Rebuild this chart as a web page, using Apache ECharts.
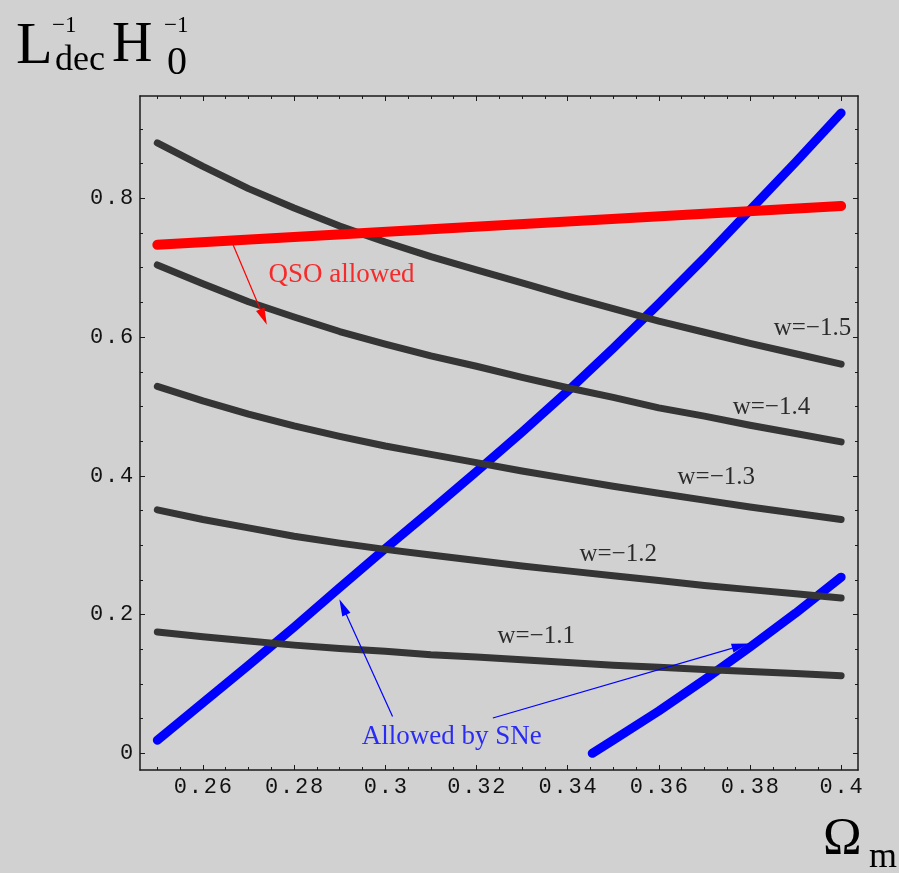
<!DOCTYPE html>
<html><head><meta charset="utf-8">
<script src="https://cdn.jsdelivr.net/npm/echarts@6/dist/echarts.min.js"></script>
<style>html,body{margin:0;padding:0;background:#d1d1d1}#c{width:899px;height:873px}</style>
</head><body><div id="c"></div>
<script>
// ---- data ----
const omega = [0.25,0.26,0.27,0.28,0.29,0.30,0.31,0.32,0.33,0.34,0.35,0.36,0.37,0.38,0.39,0.40];
const wm15 = [0.880,0.846,0.814,0.786,0.760,0.737,0.716,0.697,0.678,0.659,0.641,0.623,0.607,0.591,0.576,0.561];
const wm14 = [0.704,0.677,0.651,0.629,0.608,0.590,0.573,0.558,0.542,0.527,0.513,0.498,0.486,0.473,0.461,0.449];
const wm13 = [0.529,0.508,0.489,0.472,0.457,0.443,0.431,0.419,0.407,0.396,0.385,0.375,0.365,0.355,0.346,0.337];
const wm12 = [0.351,0.337,0.325,0.313,0.303,0.294,0.286,0.278,0.270,0.263,0.256,0.249,0.242,0.236,0.230,0.224];
const wm11 = [0.175,0.168,0.162,0.156,0.151,0.147,0.142,0.139,0.135,0.131,0.127,0.124,0.121,0.118,0.115,0.112];
const sneA = [0.019,0.073,0.127,0.182,0.239,0.295,0.350,0.406,0.463,0.522,0.584,0.648,0.714,0.783,0.852,0.923];
const sneBOmega = [0.3454,0.35,0.36,0.37,0.38,0.39,0.40];
const sneB = [0.000,0.019,0.061,0.106,0.153,0.202,0.254];
const qsoOmega = [0.25,0.40];
const qso = [0.733,0.789];

const xMajor = [0.26,0.28,0.30,0.32,0.34,0.36,0.38,0.40];
const xTickLabels = ['0.26','0.28','0.3','0.32','0.34','0.36','0.38','0.4'];
const xMinor = [0.25,0.255,0.265,0.27,0.275,0.285,0.29,0.295,0.305,0.31,0.315,0.325,0.33,0.335,0.345,0.35,0.355,0.365,0.37,0.375,0.385,0.39,0.395];
const yMajor = [0,0.2,0.4,0.6,0.8];
const yTickLabels = ['0','0.2','0.4','0.6','0.8'];
const yMinor = [0.05,0.1,0.15,0.25,0.3,0.35,0.45,0.5,0.55,0.65,0.7,0.75,0.85,0.9];

const curveLabels = ['w=\u22121.5','w=\u22121.4','w=\u22121.3','w=\u22121.2','w=\u22121.1'];

// ---- helpers ----
const pairs = (xs, ys) => xs.map((x, i) => [x, ys[i]]);
const spaced = (s) => s.split('').map(c => '{c|' + c + '}').join('');
const lookup = (vals, labels) => (v) => {
  const i = vals.findIndex(m => Math.abs(m - v) < 1e-9);
  return i >= 0 ? spaced(labels[i]) : '';
};
const monoRich = { c: { fontFamily: 'Liberation Mono', fontSize: 22, color: '#111', width: 15, align: 'center' } };

const X_MIN = 0.2462, X_MAX = 0.4037, Y_MIN = -0.024, Y_MAX = 0.9475;
const frame = { show: true, onZero: false, lineStyle: { color: '#1a1a1a', width: 1.5 } };
const noLine = { show: false, onZero: false };

function xAx(pos, ticks, len, withLine, labels) {
  return {
    type: 'value', position: pos, min: X_MIN, max: X_MAX,
    axisLine: withLine ? frame : noLine,
    axisTick: { show: true, inside: true, length: len, customValues: ticks, lineStyle: { color: '#1a1a1a', width: 1 } },
    axisLabel: labels ? { show: true, customValues: xMajor, margin: 6, formatter: lookup(xMajor, xTickLabels), rich: monoRich } : { show: false },
    splitLine: { show: false }
  };
}
function yAx(pos, ticks, len, withLine, labels) {
  return {
    type: 'value', position: pos, min: Y_MIN, max: Y_MAX,
    axisLine: withLine ? frame : noLine,
    axisTick: { show: true, inside: true, length: len, customValues: ticks, lineStyle: { color: '#1a1a1a', width: 1 } },
    axisLabel: labels ? { show: true, customValues: yMajor, margin: 6, formatter: lookup(yMajor, yTickLabels), rich: monoRich } : { show: false },
    splitLine: { show: false }
  };
}

const blackLine = (name, ys) => ({
  name, type: 'line', data: pairs(omega, ys), showSymbol: false, smooth: false,
  lineStyle: { color: '#353535', width: 7, cap: 'round', join: 'round' }, z: 3, silent: true
});

const chart = echarts.init(document.getElementById('c'), null, { renderer: 'canvas' });
chart.setOption({
  animation: false,
  backgroundColor: '#d1d1d1',
  grid: { left: 140, right: 41, top: 96, bottom: 103 },
  xAxis: [
    xAx('bottom', xMajor, 5, true, true),
    xAx('bottom', xMinor, 3, false, false),
    xAx('top', xMajor, 5, true, false),
    xAx('top', xMinor, 3, false, false)
  ],
  yAxis: [
    yAx('left', yMajor, 5, true, true),
    yAx('left', yMinor, 3, false, false),
    yAx('right', yMajor, 5, true, false),
    yAx('right', yMinor, 3, false, false)
  ],
  series: [
    { name: 'SNe A', type: 'line', data: pairs(omega, sneA), showSymbol: false, smooth: false,
      lineStyle: { color: '#0000ff', width: 9, cap: 'round', join: 'round' }, z: 2, silent: true },
    { name: 'SNe B', type: 'line', data: pairs(sneBOmega, sneB), showSymbol: false, smooth: false,
      lineStyle: { color: '#0000ff', width: 9, cap: 'round', join: 'round' }, z: 2, silent: true },
    blackLine('w=-1.5', wm15),
    blackLine('w=-1.4', wm14),
    blackLine('w=-1.3', wm13),
    blackLine('w=-1.2', wm12),
    blackLine('w=-1.1', wm11),
    { name: 'QSO', type: 'line', data: pairs(qsoOmega, qso), showSymbol: false,
      lineStyle: { color: '#ff0000', width: 10, cap: 'round', join: 'round' }, z: 4, silent: true },
    { name: 'annotations', type: 'scatter', z: 6, silent: true, symbolSize: 1,
      itemStyle: { color: 'rgba(0,0,0,0)' },
      label: { show: true, position: 'inside', formatter: '{b}', fontFamily: 'Liberation Serif', fontSize: 25,
               color: '#000', textBorderWidth: 0, textShadowBlur: 0 },
      data: [
        { name: curveLabels[0], value: [0.3937, 0.613] },
        { name: curveLabels[1], value: [0.3847, 0.498] },
        { name: curveLabels[2], value: [0.3726, 0.397] },
        { name: curveLabels[3], value: [0.3511, 0.286] },
        { name: curveLabels[4], value: [0.3331, 0.168] },
        { name: 'QSO allowed', value: [0.2904, 0.690], label: { color: '#ff0000', fontSize: 27 } },
        { name: 'Allowed by SNe', value: [0.3146, 0.024], label: { color: '#0000ff', fontSize: 27 } }
      ],
      markLine: {
        silent: true, animation: false, symbol: ['none', 'triangle'], symbolSize: [9, 17],
        label: { show: false }, emphasis: { disabled: true },
        data: [
          [ { coord: [0.2665, 0.735], lineStyle: { color: '#ff0000', width: 1.2, type: 'solid' } }, { coord: [0.2733, 0.629] } ],
          [ { coord: [0.3016, 0.053], lineStyle: { color: '#0000ff', width: 1.2, type: 'solid' } }, { coord: [0.2907, 0.211] } ],
          [ { coord: [0.3236, 0.051], lineStyle: { color: '#0000ff', width: 1.2, type: 'solid' } }, { coord: [0.3779, 0.155] } ]
        ]
      }
    }
  ],
  graphic: [
    { type: 'text', x: 16, y: 47, style: { text: 'L', fontFamily: 'Liberation Serif', fontSize: 60, fill: '#000', align: 'left', verticalAlign: 'middle' } },
    { type: 'text', x: 52, y: 26, style: { text: '\u22121', fontFamily: 'Liberation Serif', fontSize: 23, fill: '#000', align: 'left', verticalAlign: 'middle' } },
    { type: 'text', x: 55, y: 61, style: { text: 'dec', fontFamily: 'Liberation Serif', fontSize: 36, fill: '#000', align: 'left', verticalAlign: 'middle' } },
    { type: 'text', x: 112, y: 46.5, style: { text: 'H', fontFamily: 'Liberation Serif', fontSize: 56, fill: '#000', align: 'left', verticalAlign: 'middle' } },
    { type: 'text', x: 164, y: 26, style: { text: '\u22121', fontFamily: 'Liberation Serif', fontSize: 23, fill: '#000', align: 'left', verticalAlign: 'middle' } },
    { type: 'text', x: 167, y: 63.5, style: { text: '0', fontFamily: 'Liberation Serif', fontSize: 40, fill: '#000', align: 'left', verticalAlign: 'middle' } },
    { type: 'text', x: 823, y: 840.5, style: { text: '\u03A9', fontFamily: 'Liberation Serif', fontSize: 52, fill: '#000', align: 'left', verticalAlign: 'middle' } },
    { type: 'text', x: 869, y: 858, style: { text: 'm', fontFamily: 'Liberation Serif', fontSize: 36, fill: '#000', align: 'left', verticalAlign: 'middle' } }
  ]
});
</script>
</body></html>
